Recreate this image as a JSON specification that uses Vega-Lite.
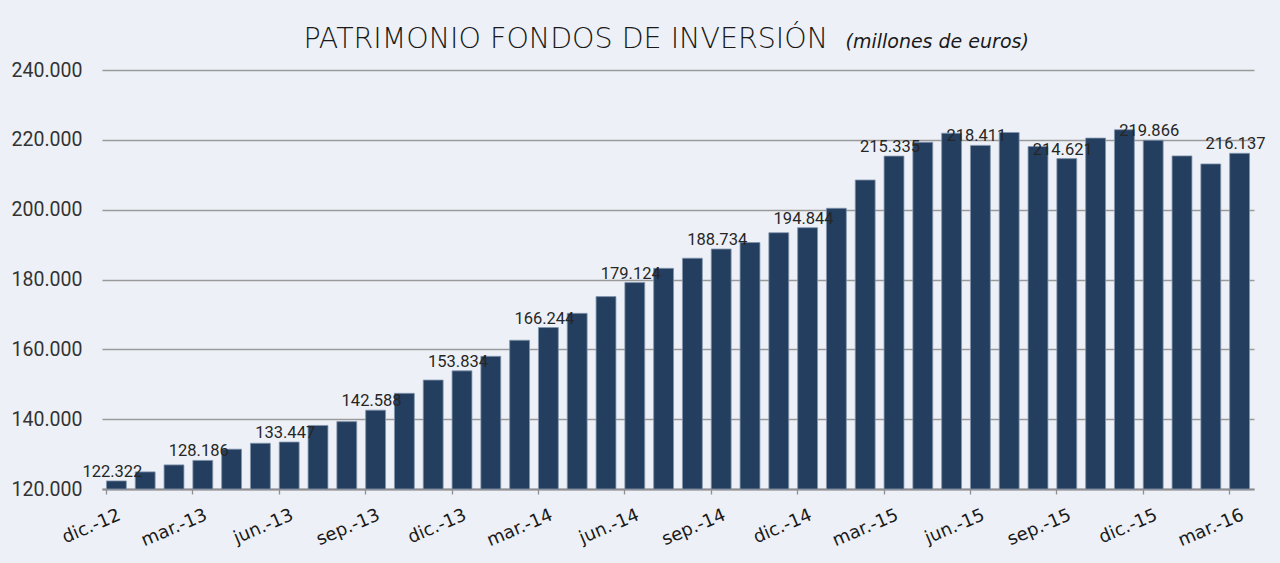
{
  "$schema": "https://vega.github.io/schema/vega-lite/v6.json",
  "width": 1152,
  "height": 419,
  "autosize": {"type": "none"},
  "padding": {"left": 102, "top": 70, "right": 26, "bottom": 74},
  "background": "#edf1f7",
  "data": {
    "values": [
      {"mes": "dic.-12", "valor": 122322},
      {"mes": "ene.-13", "valor": 124900},
      {"mes": "feb.-13", "valor": 126900},
      {"mes": "mar.-13", "valor": 128186},
      {"mes": "abr.-13", "valor": 131400},
      {"mes": "may.-13", "valor": 133100},
      {"mes": "jun.-13", "valor": 133447},
      {"mes": "jul.-13", "valor": 138200},
      {"mes": "ago.-13", "valor": 139300},
      {"mes": "sep.-13", "valor": 142588},
      {"mes": "oct.-13", "valor": 147400},
      {"mes": "nov.-13", "valor": 151200},
      {"mes": "dic.-13", "valor": 153834},
      {"mes": "ene.-14", "valor": 158000},
      {"mes": "feb.-14", "valor": 162600},
      {"mes": "mar.-14", "valor": 166244},
      {"mes": "abr.-14", "valor": 170300},
      {"mes": "may.-14", "valor": 175100},
      {"mes": "jun.-14", "valor": 179124},
      {"mes": "jul.-14", "valor": 183200},
      {"mes": "ago.-14", "valor": 186100},
      {"mes": "sep.-14", "valor": 188734},
      {"mes": "oct.-14", "valor": 190600},
      {"mes": "nov.-14", "valor": 193400},
      {"mes": "dic.-14", "valor": 194844},
      {"mes": "ene.-15", "valor": 200400},
      {"mes": "feb.-15", "valor": 208500},
      {"mes": "mar.-15", "valor": 215335},
      {"mes": "abr.-15", "valor": 219300},
      {"mes": "may.-15", "valor": 221900},
      {"mes": "jun.-15", "valor": 218411},
      {"mes": "jul.-15", "valor": 222100},
      {"mes": "ago.-15", "valor": 218100},
      {"mes": "sep.-15", "valor": 214621},
      {"mes": "oct.-15", "valor": 220500},
      {"mes": "nov.-15", "valor": 222900},
      {"mes": "dic.-15", "valor": 219866},
      {"mes": "ene.-16", "valor": 215400},
      {"mes": "feb.-16", "valor": 213100},
      {"mes": "mar.-16", "valor": 216137}
    ]
  },
  "encoding": {
    "x": {
      "field": "mes",
      "type": "nominal",
      "sort": null,
      "scale": {"paddingInner": 0.31, "paddingOuter": 0.155},
      "axis": {
        "title": null,
        "values": ["dic.-12", "mar.-13", "jun.-13", "sep.-13", "dic.-13", "mar.-14", "jun.-14", "sep.-14", "dic.-14", "mar.-15", "jun.-15", "sep.-15", "dic.-15", "mar.-16"],
        "bandPosition": 0,
        "labelAngle": -23,
        "labelAlign": "right",
        "labelBaseline": "top",
        "labelPadding": 12,
        "labelFont": "DejaVu Sans",
        "labelFontSize": 18,
        "labelColor": "#1a1a1a",
        "tickSize": 5,
        "tickColor": "#8f8f8f",
        "tickWidth": 1.3,
        "domainColor": "#8f8f8f",
        "domainWidth": 2,
        "grid": false
      }
    }
  },
  "layer": [
    {
      "mark": {"type": "bar", "color": "#243e5f", "stroke": "#8395ae", "strokeWidth": 0.8},
      "encoding": {
        "y": {
          "field": "valor",
          "type": "quantitative",
          "scale": {"domain": [120000, 240000], "zero": false, "nice": false},
          "axis": {
            "title": "(millones de euros)",
            "titleAngle": 0,
            "titleX": 743,
            "titleY": -23,
            "titleAlign": "left",
            "titleBaseline": "alphabetic",
            "titleFont": "DejaVu Sans",
            "titleFontStyle": "italic",
            "titleFontWeight": 200,
            "titleFontSize": 19,
            "titleColor": "#1a1a1a",
            "values": [120000, 140000, 160000, 180000, 200000, 220000, 240000],
            "format": ",.0f",
            "labelFont": "Roboto",
            "labelFontSize": 19.5,
            "labelColor": "#333333",
            "labelPadding": 20,
            "domain": false,
            "ticks": false,
            "grid": true,
            "gridColor": "#9a9a9a",
            "gridWidth": 1.3
          }
        },
        "y2": {"datum": 120000}
      }
    },
    {
      "transform": [{"filter": {"field": "mes", "oneOf": ["dic.-12", "mar.-13", "jun.-13", "sep.-13", "dic.-13", "mar.-14", "jun.-14", "sep.-14", "dic.-14", "mar.-15", "jun.-15", "sep.-15", "dic.-15", "mar.-16"]}}],
      "mark": {"type": "text", "baseline": "alphabetic", "align": "center", "dy": -4, "dx": -4, "font": "Roboto", "fontSize": 16.5, "color": "#262626"},
      "encoding": {
        "y": {
          "field": "valor",
          "type": "quantitative",
          "scale": {"domain": [120000, 240000], "zero": false, "nice": false},
          "axis": {
            "orient": "right",
            "title": "PATRIMONIO FONDOS DE INVERSIÓN",
            "titleAngle": 0,
            "titleX": -951,
            "titleY": -23,
            "titleAlign": "left",
            "titleBaseline": "alphabetic",
            "titleFont": "DejaVu Sans",
            "titleFontWeight": 200,
            "titleFontSize": 28.5,
            "titleColor": "#1a1a1a",
            "labels": false,
            "domain": false,
            "ticks": false,
            "grid": false
          }
        },
        "text": {"field": "valor", "type": "quantitative", "format": ",.0f"}
      }
    }
  ],
  "resolve": {"axis": {"y": "independent"}},
  "config": {
    "view": {"stroke": null},
    "locale": {"number": {"decimal": ",", "thousands": ".", "grouping": [3], "currency": ["", " €"]}}
  }
}
